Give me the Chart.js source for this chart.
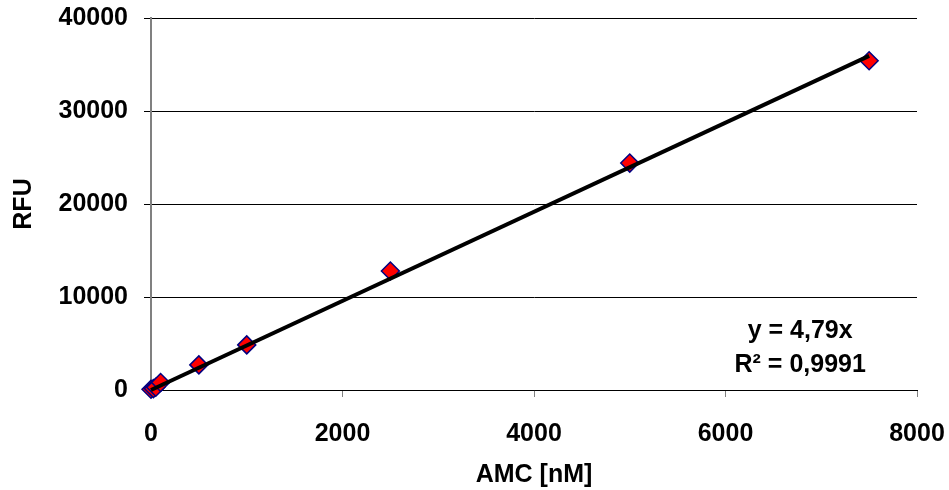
<!DOCTYPE html>
<html>
<head>
<meta charset="utf-8">
<script src="https://cdn.jsdelivr.net/npm/chart.js@4"></script>
<style>
  html, body { margin: 0; padding: 0; background: #fff; }
  #wrap { width: 949px; height: 490px; }
</style>
</head>
<body>
<div id="wrap"><canvas id="myChart" width="949" height="490"></canvas></div>
<script>
// Datos
const amc = [0, 25, 50, 100, 500, 1000, 2500, 5000, 7500];
const rfu = [80, 150, 300, 800, 2700, 4850, 12800, 24400, 35400];
const trendX = [0, 7500];
const slope = 4.79;
const equationLines = ['y = 4,79x', 'R² = 0,9991'];
const yTicks = [0, 10000, 20000, 30000, 40000];
const xTicks = [0, 2000, 4000, 6000, 8000];

const font = { family: 'Arial, "Liberation Sans", sans-serif', size: 25, weight: 'bold', lineHeight: 1.2 };

// Texto de la ecuación de tendencia
const equationPlugin = {
    id: 'equation',
    afterDraw(chart) {
        const c = chart.ctx;
        const sx = chart.scales.x, sy = chart.scales.y;
        const x = sx.getPixelForValue(6780);
        c.save();
        c.fillStyle = '#000';
        c.font = 'bold 25px Arial, "Liberation Sans", sans-serif';
        c.textAlign = 'center';
        c.textBaseline = 'alphabetic';
        c.fillText(equationLines[0], x, sy.getPixelForValue(5590));
        c.fillText(equationLines[1], x, sy.getPixelForValue(1935));
        c.restore();
    }
};

const ctx = document.getElementById('myChart').getContext('2d');
new Chart(ctx, {
    type: 'scatter',
    data: {
        datasets: [
            {
                type: 'line',
                data: trendX.map(x => ({ x: x, y: slope * x })),
                borderColor: '#000',
                borderWidth: 4,
                pointRadius: 0,
                fill: false,
                clip: false
            },
            {
                data: amc.map((x, i) => ({ x: x, y: rfu[i] })),
                pointStyle: 'rectRot',
                pointRadius: 9,
                pointBackgroundColor: '#ff0000',
                pointBorderColor: '#000080',
                pointBorderWidth: 1.5,
                clip: false
            }
        ]
    },
    options: {
        responsive: false,
        animation: false,
        layout: { padding: { left: 0, right: 32, top: 18, bottom: 0 } },
        plugins: {
            legend: { display: false },
            tooltip: { enabled: false }
        },
        scales: {
            x: {
                type: 'linear',
                min: 0,
                max: 8000,
                afterBuildTicks: s => { s.ticks = xTicks.map(v => ({ value: v })); },
                afterFit: s => { s.height = 100; s.paddingLeft = 0; s.paddingRight = 0; },
                ticks: { color: '#000', font: font, padding: 22, maxRotation: 0, callback: v => String(v) },
                grid: { drawOnChartArea: false, drawTicks: true, tickLength: 7, tickColor: '#808080' },
                border: { color: '#000', width: 1 },
                title: { display: true, text: 'AMC [nM]', color: '#000', font: font, padding: { top: 0, bottom: 0 } }
            },
            y: {
                min: 0,
                max: 40000,
                afterBuildTicks: s => { s.ticks = yTicks.map(v => ({ value: v })); },
                afterFit: s => { s.width = 151; s.paddingTop = 0; s.paddingBottom = 0; },
                ticks: { color: '#000', font: font, padding: 16, callback: v => String(v) },
                grid: { color: '#000', lineWidth: 1, tickLength: 7, tickColor: '#000' },
                border: { color: '#808080', width: 2 },
                title: { display: true, text: 'RFU', color: '#000', font: font, padding: { top: 9, bottom: 0 } }
            }
        }
    },
    plugins: [equationPlugin]
});
</script>
</body>
</html>
